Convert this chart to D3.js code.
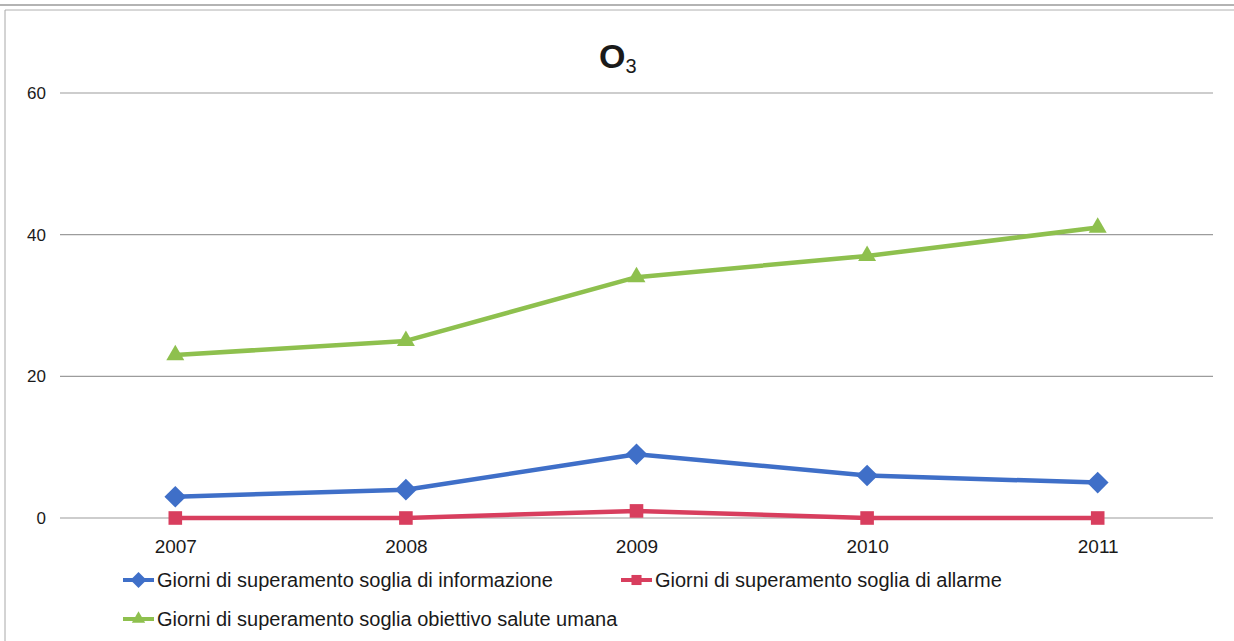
<!DOCTYPE html>
<html>
<head>
<meta charset="utf-8">
<script src="https://d3js.org/d3.v7.min.js"></script>
<style>
  html, body { margin: 0; padding: 0; background: #ffffff; }
  svg { display: block; }
  text { font-family: "Liberation Sans", Arial, sans-serif; fill: #1a1a1a; }
</style>
</head>
<body>
<script>
const years = ["2007", "2008", "2009", "2010", "2011"];
const seriesNames = [
  "Giorni di superamento soglia di informazione",
  "Giorni di superamento soglia di allarme",
  "Giorni di superamento soglia obiettivo salute umana"
];
const informazione = [3, 4, 9, 6, 5];
const allarme = [0, 0, 1, 0, 0];
const saluteUmana = [23, 25, 34, 37, 41];
const yTicks = [0, 20, 40, 60];

const W = 1234, H = 641;
const svg = d3.select("body").append("svg").attr("width", W).attr("height", H);

// frame
svg.append("line").attr("x1", 0).attr("x2", W).attr("y1", 5).attr("y2", 5).attr("stroke", "#9a9a9a").attr("stroke-width", 1.5);
svg.append("line").attr("x1", 5).attr("x2", W).attr("y1", 10).attr("y2", 10).attr("stroke", "#b0b0b0").attr("stroke-width", 1);
svg.append("line").attr("x1", 5).attr("x2", 5).attr("y1", 10).attr("y2", H).attr("stroke", "#a8a8a8").attr("stroke-width", 1);

const x = d3.scalePoint().domain(years).range([60, 1213]).padding(0.5);
const y = d3.scaleLinear().domain([0, 60]).range([518, 93]);

// gridlines
svg.append("g").selectAll("line").data(yTicks).join("line")
  .attr("x1", 60).attr("x2", 1213)
  .attr("y1", d => y(d)).attr("y2", d => y(d))
  .attr("stroke", "#9c9c9c").attr("stroke-width", 1.2);

// y axis labels
const yAxis = d3.axisLeft(y).tickValues(yTicks).tickSize(0).tickPadding(0);
const gy = svg.append("g").attr("transform", "translate(46,0)").call(yAxis);
gy.select(".domain").remove();
gy.selectAll("text").style("font-size", "17px").attr("fill", "#1a1a1a").attr("font-family", "Liberation Sans, Arial, sans-serif");

// x axis labels
const xAxis = d3.axisBottom(x).tickSize(0).tickPadding(0);
const gx = svg.append("g").attr("transform", "translate(0,539)").call(xAxis);
gx.select(".domain").remove();
gx.selectAll("text").style("font-size", "19px").attr("fill", "#1a1a1a").attr("font-family", "Liberation Sans, Arial, sans-serif");

// title
const title = svg.append("text").attr("x", 599).attr("y", 68).style("font-size", "34px").style("font-weight", "bold");
title.append("tspan").text("O");
title.append("tspan").attr("dy", 5).style("font-size", "20px").style("font-weight", "normal").text("3");

const hasD2 = !!d3.symbolDiamond2;
const series = [
  { name: seriesNames[0], values: informazione, color: "#3f6fc8", shape: hasD2 ? d3.symbolDiamond2 : d3.symbolDiamond, size: hasD2 ? 300 : 160 },
  { name: seriesNames[1], values: allarme, color: "#d83e5e", shape: d3.symbolSquare, size: 185 },
  { name: seriesNames[2], values: saluteUmana, color: "#8ec04e", shape: d3.symbolTriangle, size: 140 }
];

const line = d3.line().x((d, i) => x(years[i])).y(d => y(d));

[2, 0, 1].forEach(k => {
  const s = series[k];
  const g = svg.append("g");
  g.append("path").datum(s.values).attr("d", line)
    .attr("fill", "none").attr("stroke", s.color).attr("stroke-width", 4.5)
    .attr("stroke-linejoin", "round").attr("stroke-linecap", "round");
  g.selectAll("path.m").data(s.values).join("path").attr("class", "m")
    .attr("transform", (d, i) => `translate(${x(years[i])},${y(d)})`)
    .attr("d", d3.symbol().type(s.shape).size(s.size))
    .attr("fill", s.color);
});

// legend
const legendItems = [
  { s: series[0], x: 123, y: 580 },
  { s: series[1], x: 621, y: 580 },
  { s: series[2], x: 123, y: 619 }
];
const lg = svg.append("g");
legendItems.forEach(it => {
  lg.append("line").attr("x1", it.x).attr("x2", it.x + 31).attr("y1", it.y).attr("y2", it.y)
    .attr("stroke", it.s.color).attr("stroke-width", 4);
  lg.append("path").attr("transform", `translate(${it.x + 15.5},${it.y})`)
    .attr("d", d3.symbol().type(it.s.shape).size(it.s.size * 0.55)).attr("fill", it.s.color);
  lg.append("text").attr("x", it.x + 34).attr("y", it.y + 7).style("font-size", "20px").text(it.s.name);
});
</script>
</body>
</html>
